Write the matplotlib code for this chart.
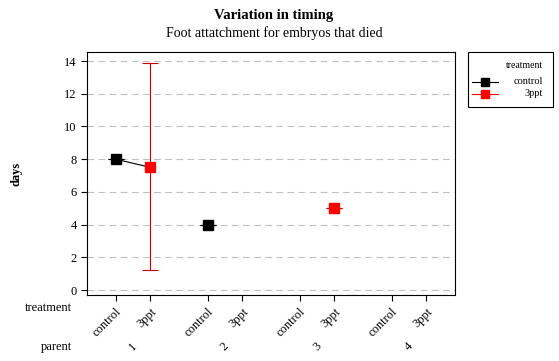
import numpy as np
import matplotlib.pyplot as plt
from matplotlib.patches import Rectangle
from matplotlib.lines import Line2D

plt.rcParams['font.family'] = ['Liberation Serif', 'DejaVu Serif']

parents = ["1", "2", "3", "4"]
treatments = ["control", "3ppt"]
# mean days per parent, nan = no data
control_mean = [8.0, 4.0, np.nan, np.nan]
ppt_mean = [7.5, np.nan, 5.0, np.nan]
control_lo = [8.0, 4.0, np.nan, np.nan]
control_hi = [8.0, 4.0, np.nan, np.nan]
ppt_lo = [1.2, np.nan, 5.0, np.nan]
ppt_hi = [13.85, np.nan, 5.0, np.nan]

W, H = 559, 361
fig = plt.figure(figsize=(W / 100, H / 100), dpi=100)
ax = fig.add_axes([87 / W, 1 - 295 / H, 368 / W, 243 / H])

off = 0.19
pos = np.arange(1, len(parents) + 1)
xc = pos - off
xp = pos + off
cm = np.array(control_mean)
pm = np.array(ppt_mean)

# lines joining the two treatments inside each parent
for i in range(len(parents)):
    if not np.isnan(cm[i]) and not np.isnan(pm[i]):
        ax.plot([xc[i], xp[i]], [cm[i], pm[i]], color="black", lw=0.8, zorder=2)

ax.errorbar(xc, cm, yerr=[cm - np.array(control_lo), np.array(control_hi) - cm],
            fmt="none", ecolor="black", elinewidth=0.8, capsize=6, capthick=0.8, zorder=2)
ax.errorbar(xp, pm, yerr=[pm - np.array(ppt_lo), np.array(ppt_hi) - pm],
            fmt="none", ecolor="#cc0000", elinewidth=0.8, capsize=6, capthick=0.8, zorder=2)
ax.plot(xc, cm, "s", color="black", ms=7.5, ls="none", zorder=3)
ax.plot(xp, pm, "s", color="red", ms=7.5, ls="none", zorder=3)

ax.set_xlim(0.5, 4.5)
ax.set_ylim(-0.3, 14.55)
ax.set_yticks(np.arange(0, 15, 2))
ax.yaxis.grid(True, ls=(0, (6, 4)), color="#c0c0c0", lw=0.8)
ax.set_axisbelow(True)
ax.tick_params(labelsize=9, direction="out", length=4, width=0.8)
for s in ax.spines.values():
    s.set_linewidth(0.8)

ticks = np.sort(np.concatenate([xc, xp]))
ax.set_xticks(ticks)
ax.set_xticklabels(treatments * len(parents), rotation=45, ha="right",
                   rotation_mode="anchor", fontsize=9)
for x, p in zip(pos, parents):
    ax.annotate(p, xy=(x, 0), xycoords=("data", "axes fraction"),
                xytext=(0, -37), textcoords="offset points",
                ha="center", va="center", rotation=45, fontsize=9)

fig.text(72 / W, 1 - 308 / H, "treatment", ha="right", va="center", fontsize=9)
fig.text(72 / W, 1 - 347 / H, "parent", ha="right", va="center", fontsize=9)
ax.set_ylabel("days", fontweight="bold", fontsize=9, labelpad=30)

fig.text(0.49, 1 - 15 / H, "Variation in timing", ha="center", va="center",
         fontweight="bold", fontsize=10.5)
fig.text(0.49, 1 - 33 / H, "Foot attatchment for embryos that died", ha="center",
         va="center", fontsize=10)

# legend drawn by hand (labels right-aligned like the original)
fx = lambda px: px / W
fy = lambda py: 1 - py / H
fig.patches.append(Rectangle((fx(468), fy(107)), fx(553) - fx(468), fy(52) - fy(107),
                             transform=fig.transFigure, fill=False, lw=0.8,
                             edgecolor="black"))
fig.text(fx(543), fy(66), "treatment", ha="right", va="center", fontsize=7)
for label, col, yy in zip(treatments, ["black", "red"], [82, 94]):
    fig.lines.append(Line2D([fx(472), fx(498)], [fy(yy), fy(yy)], color=col, lw=0.8,
                            transform=fig.transFigure))
    fig.lines.append(Line2D([fx(485)], [fy(yy)], marker="s", ms=5.5, color=col,
                            transform=fig.transFigure))
    fig.text(fx(543), fy(yy), label, ha="right", va="center", fontsize=7.5)

fig.savefig("out.png", dpi=100)
